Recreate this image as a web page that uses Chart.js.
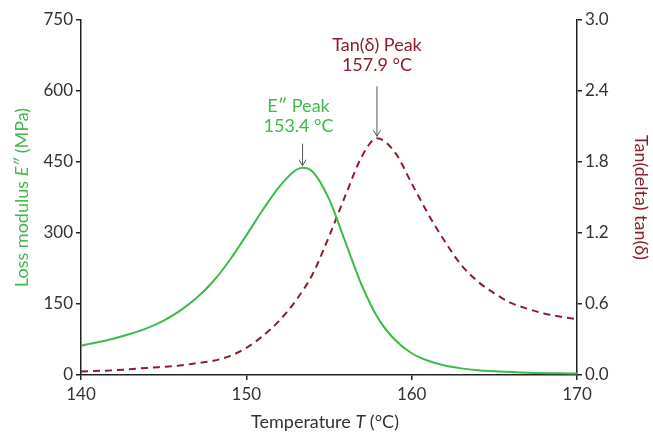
<!DOCTYPE html>
<html>
<head>
<meta charset="utf-8">
<script src="https://cdn.jsdelivr.net/npm/chart.js@4.4.1/dist/chart.umd.min.js"></script>
<style>
  html, body { margin: 0; padding: 0; background: #fff; }
  #wrap { width: 653px; height: 433px; }
</style>
</head>
<body>
<div id="wrap"><canvas id="myChart" width="653" height="433"></canvas></div>
<script>
// loss modulus E'' (MPa) vs temperature
const tempE = [140, 141, 142, 143, 144, 145, 146, 147, 148, 149, 150, 151, 152, 153, 153.4, 154, 155, 156, 157, 158, 159, 160, 161, 162, 163, 164, 165, 167, 170];
const lossModulus = [62, 69, 77, 87, 99, 115, 136, 163, 198, 243, 295, 349, 398, 433, 438, 430, 372, 280, 188, 118, 74, 46, 30, 20, 14, 10, 8, 5, 3];

// tan(delta) vs temperature
const tempTan = [140, 142, 144, 146, 147, 148, 149, 150, 151, 152, 153, 154, 155, 156, 157, 157.9, 159, 160, 161, 162, 163, 164, 165, 166, 167, 168, 170];
const tanDelta = [0.03, 0.04, 0.06, 0.08, 0.10, 0.12, 0.16, 0.23, 0.33, 0.46, 0.63, 0.85, 1.17, 1.52, 1.85, 2.0, 1.88, 1.62, 1.36, 1.13, 0.93, 0.79, 0.69, 0.61, 0.56, 0.52, 0.47];

const xTicks = [140, 150, 160, 170];
const yTicks = [0, 150, 300, 450, 600, 750];
const y1Ticks = [0, 0.6, 1.2, 1.8, 2.4, 3.0];

const ePeak = {t: 153.4, v: 438, label: ['E\u2033 Peak', '153.4 \u00B0C']};
const tanPeak = {t: 157.9, v: 2.0, label: ['Tan(\u03B4) Peak', '157.9 \u00B0C']};

const green = '#3fb94a';
const wine = '#8b1e2e';
const axisColor = '#222';
const FONT = 'Lato, "Open Sans", sans-serif';

function arrow(ctx, x, yTip, len) {
    ctx.save();
    ctx.strokeStyle = '#555';
    ctx.lineWidth = 1;
    ctx.beginPath();
    ctx.moveTo(x, yTip - len);
    ctx.lineTo(x, yTip);
    ctx.moveTo(x - 3.5, yTip - 6);
    ctx.lineTo(x, yTip);
    ctx.lineTo(x + 3.5, yTip - 6);
    ctx.stroke();
    ctx.restore();
}

// draws runs of [text, italic] centered at (cx, cy)
function mixedText(ctx, parts, cx, cy, color, size) {
    ctx.save();
    ctx.fillStyle = color;
    ctx.textBaseline = 'middle';
    ctx.textAlign = 'left';
    let total = 0;
    parts.forEach(p => {
        ctx.font = (p[1] ? 'italic ' : '') + size + 'px ' + FONT;
        total += ctx.measureText(p[0]).width;
    });
    let x = cx - total / 2;
    parts.forEach(p => {
        ctx.font = (p[1] ? 'italic ' : '') + size + 'px ' + FONT;
        ctx.fillText(p[0], x, cy);
        x += ctx.measureText(p[0]).width;
    });
    ctx.restore();
}

const decor = {
    id: 'decor',
    afterDraw(chart) {
        const {ctx, chartArea, scales} = chart;
        const sx = scales.x, sy = scales.y, sy1 = scales.y1;

        // peak arrows + labels
        let px = sx.getPixelForValue(ePeak.t), py = sy.getPixelForValue(ePeak.v);
        arrow(ctx, px, py - 2, 22);
        mixedText(ctx, [[ePeak.label[0], false]], px - 4, py - 61, green, 18);
        mixedText(ctx, [[ePeak.label[1], false]], px - 4, py - 41, green, 18);

        px = sx.getPixelForValue(tanPeak.t); py = sy1.getPixelForValue(tanPeak.v);
        arrow(ctx, px, py - 2, 50);
        mixedText(ctx, [[tanPeak.label[0], false]], px, py - 93, wine, 18);
        mixedText(ctx, [[tanPeak.label[1], false]], px, py - 73, wine, 18);

        // axis titles
        const midY = (chartArea.top + chartArea.bottom) / 2;
        mixedText(ctx, [['Temperature ', false], ['T', true], [' (\u00B0C)', false]],
            (chartArea.left + chartArea.right) / 2 - 4, 422, '#333', 18);

        ctx.save();
        ctx.translate(22, midY);
        ctx.rotate(-Math.PI / 2);
        mixedText(ctx, [['Loss modulus ', false], ['E\u2033', true], [' (MPa)', false]], 0, 0, green, 18);
        ctx.restore();

        ctx.save();
        ctx.translate(641, midY);
        ctx.rotate(Math.PI / 2);
        mixedText(ctx, [['Tan(delta) tan(\u03B4)', false]], 0, 0, wine, 18);
        ctx.restore();
    }
};

function fixedTicks(list) {
    return function (scale) {
        scale.ticks = list.map(v => ({value: v}));
    };
}

const tickFont = {family: FONT, size: 17};

new Chart(document.getElementById('myChart'), {
    type: 'line',
    data: {
        datasets: [
            {
                label: 'E\u2033',
                data: tempE.map((t, i) => ({x: t, y: lossModulus[i]})),
                borderColor: green,
                borderWidth: 2,
                pointRadius: 0,
                cubicInterpolationMode: 'monotone',
                yAxisID: 'y'
            },
            {
                label: 'tan(\u03B4)',
                data: tempTan.map((t, i) => ({x: t, y: tanDelta[i]})),
                borderColor: wine,
                borderWidth: 2,
                borderDash: [7, 5],
                pointRadius: 0,
                cubicInterpolationMode: 'monotone',
                yAxisID: 'y1'
            }
        ]
    },
    options: {
        responsive: false,
        animation: false,
        layout: {padding: {top: 20, left: 0, right: 0, bottom: 0}},
        plugins: {legend: {display: false}, tooltip: {enabled: false}},
        scales: {
            x: {
                type: 'linear', min: 140, max: 170,
                afterBuildTicks: fixedTicks(xTicks),
                afterFit: s => { s.height = 58; },
                border: {color: axisColor, width: 1.5},
                grid: {drawOnChartArea: false, tickLength: 5, color: axisColor, lineWidth: 1.5},
                ticks: {color: '#333', font: tickFont, padding: 4, maxRotation: 0}
            },
            y: {
                position: 'left', min: 0, max: 750,
                afterBuildTicks: fixedTicks(yTicks),
                afterFit: s => { s.width = 81; },
                border: {color: axisColor, width: 1.5},
                grid: {drawOnChartArea: false, tickLength: 5, color: axisColor, lineWidth: 1.5},
                ticks: {color: '#333', font: tickFont, padding: 3}
            },
            y1: {
                position: 'right', min: 0, max: 3,
                afterBuildTicks: fixedTicks(y1Ticks),
                afterFit: s => { s.width = 76; },
                border: {color: axisColor, width: 1.5},
                grid: {drawOnChartArea: false, tickLength: 5, color: axisColor, lineWidth: 1.5},
                ticks: {color: '#333', font: tickFont, padding: 3, callback: v => v.toFixed(1)}
            }
        }
    },
    plugins: [decor]
});
</script>
</body>
</html>
